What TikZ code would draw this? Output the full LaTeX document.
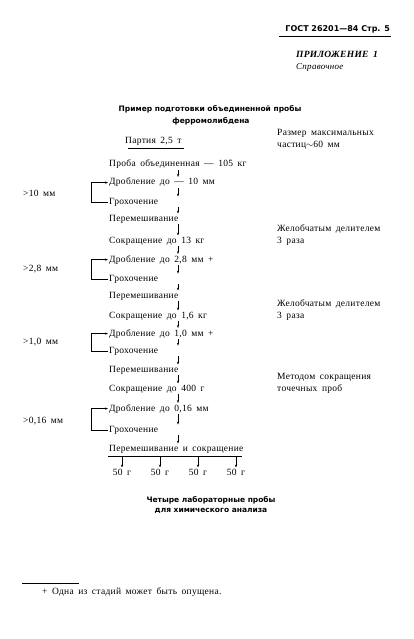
\documentclass[tikz,border=0pt]{standalone}
\usepackage{fontspec}
\setmainfont{Liberation Serif}[LetterSpace=3,WordSpace=1.7]
\newfontfamily\hsans{DejaVu Sans}[WordSpace=1.5]
\newfontfamily\gsans{DejaVu Sans}
\usetikzlibrary{arrows.meta}
\begin{document}
\begin{tikzpicture}[x=1pt,y=-1pt,
  txt/.style={anchor=base west,inner sep=1pt,font=\fontsize{9.5}{10}\selectfont},
  note/.style={anchor=base west,inner sep=0pt,font=\fontsize{9.5}{12}\selectfont,align=left},
  hd/.style={anchor=base,inner sep=0pt,font=\hsans\bfseries\fontsize{7.5}{9}\selectfont},
  arr/.style={-{Stealth[length=3pt,width=2.2pt]},line width=0.5pt},
  ln/.style={line width=0.5pt}]
\useasboundingbox (0,0) rectangle (414,639);
\fill[white] (0,0) rectangle (414,639);
% header
\node[anchor=base east,inner sep=0pt,font=\gsans\bfseries\fontsize{8}{10}\selectfont] (gost) at (390,32) {ГОСТ 26201—84 Стр. 5};
\draw[line width=1.1pt] (279,36.5) -- (391,36.5);
\node[anchor=base west,inner sep=0pt,font=\bfseries\itshape\fontsize{9.5}{11}\selectfont] (pril) at (296,58) {ПРИЛОЖЕНИЕ 1};
\node[anchor=base west,inner sep=0pt,font=\itshape\fontsize{9}{10}\selectfont] (sprav) at (296,70) {Справочное};
% title
\node[hd] (t1) at (210,112) {Пример подготовки объединенной пробы};
\node[hd] (t2) at (211,124) {ферромолибдена};
% party
\node[txt] (party) at (124,144) {Партия 2,5 т};
\draw[ln] ([xshift=4pt,yshift=-1.5pt]party.south west) -- ([xshift=1pt,yshift=-1.5pt]party.south east);
\node[note] (r1) at (277,148) {Размер максимальных\\частиц$\sim$60 мм};
\coordinate (ax) at (178,0);
% chain
\node[txt] (prob) at (108,167) {Проба объединенная — 105 кг};
\node[txt] (d1) at (108,185) {Дробление до — 10 мм};
\node[txt] (g1) at (108,204) {Грохочение};
\node[txt] (m1) at (108,221) {Перемешивание};
\node[txt] (s1) at (108,243) {Сокращение до 13 кг};
\node[txt] (d2) at (108,262) {Дробление до 2,8 мм +};
\node[txt] (g2) at (108,281) {Грохочение};
\node[txt] (m2) at (108,298) {Перемешивание};
\node[txt] (s2) at (108,318) {Сокращение до 1,6 кг};
\node[txt] (d3) at (108,336) {Дробление до 1,0 мм +};
\node[txt] (g3) at (108,353) {Грохочение};
\node[txt] (m3) at (108,372) {Перемешивание};
\node[txt] (s3) at (108,391) {Сокращение до 400 г};
\node[txt] (d4) at (108,411) {Дробление до 0,16 мм};
\node[txt] (g4) at (108,432) {Грохочение};
\node[txt] (mx) at (108,451) {Перемешивание и сокращение};
\foreach \a/\b in {prob/d1,d1/g1,g1/m1,m1/s1,s1/d2,d2/g2,g2/m2,m2/s2,s2/d3,d3/g3,g3/m3,m3/s3,s3/d4,d4/g4,g4/mx}
  \draw[arr] (\a.south -| ax) -- (\b.north -| ax);
% brackets
\foreach \d/\g in {d1/g1,d2/g2,d3/g3,d4/g4}
  \draw[arr] (\g.west) -- ++(-17,0) |- (\d.west);
\node[txt] (k1) at (22,196) {>10 мм};
\node[txt] (k2) at (22,271) {>2,8 мм};
\node[txt] (k3) at (22,344) {>1,0 мм};
\node[txt] (k4) at (22,423) {>0,16 мм};
% right notes
\node[note] (r2) at (277,243) {Желобчатым делителем\\3 раза};
\node[note] (r3) at (277,318) {Желобчатым делителем\\3 раза};
\node[note] (r4) at (277,391) {Методом сокращения\\точечных проб};
% split
\coordinate (la) at (108,456);
\coordinate (lb) at (242,456);
\draw[ln] (la) -- (lb);
\foreach \i/\x in {1/122,2/160,3/198,4/236}{
  \node[anchor=base,inner sep=1pt,font=\fontsize{9.5}{10}\selectfont] (p\i) at (\x,475) {50 г};
  \draw[arr] (p\i.north |- la) -- (p\i.north);
}
\node[hd] (f1) at (211,502) {Четыре лабораторные пробы};
\node[hd] (f2) at (211,512) {для химического анализа};
% footnote
\coordinate (fa) at (22,583);
\coordinate (fb) at (79,583);
\draw[ln] (fa) -- (fb);
\node[anchor=base west,inner sep=0pt,font=\fontsize{9.5}{10}\selectfont] (fn) at (42,594) {+ Одна из стадий может быть опущена.};
\end{tikzpicture}
\end{document}
